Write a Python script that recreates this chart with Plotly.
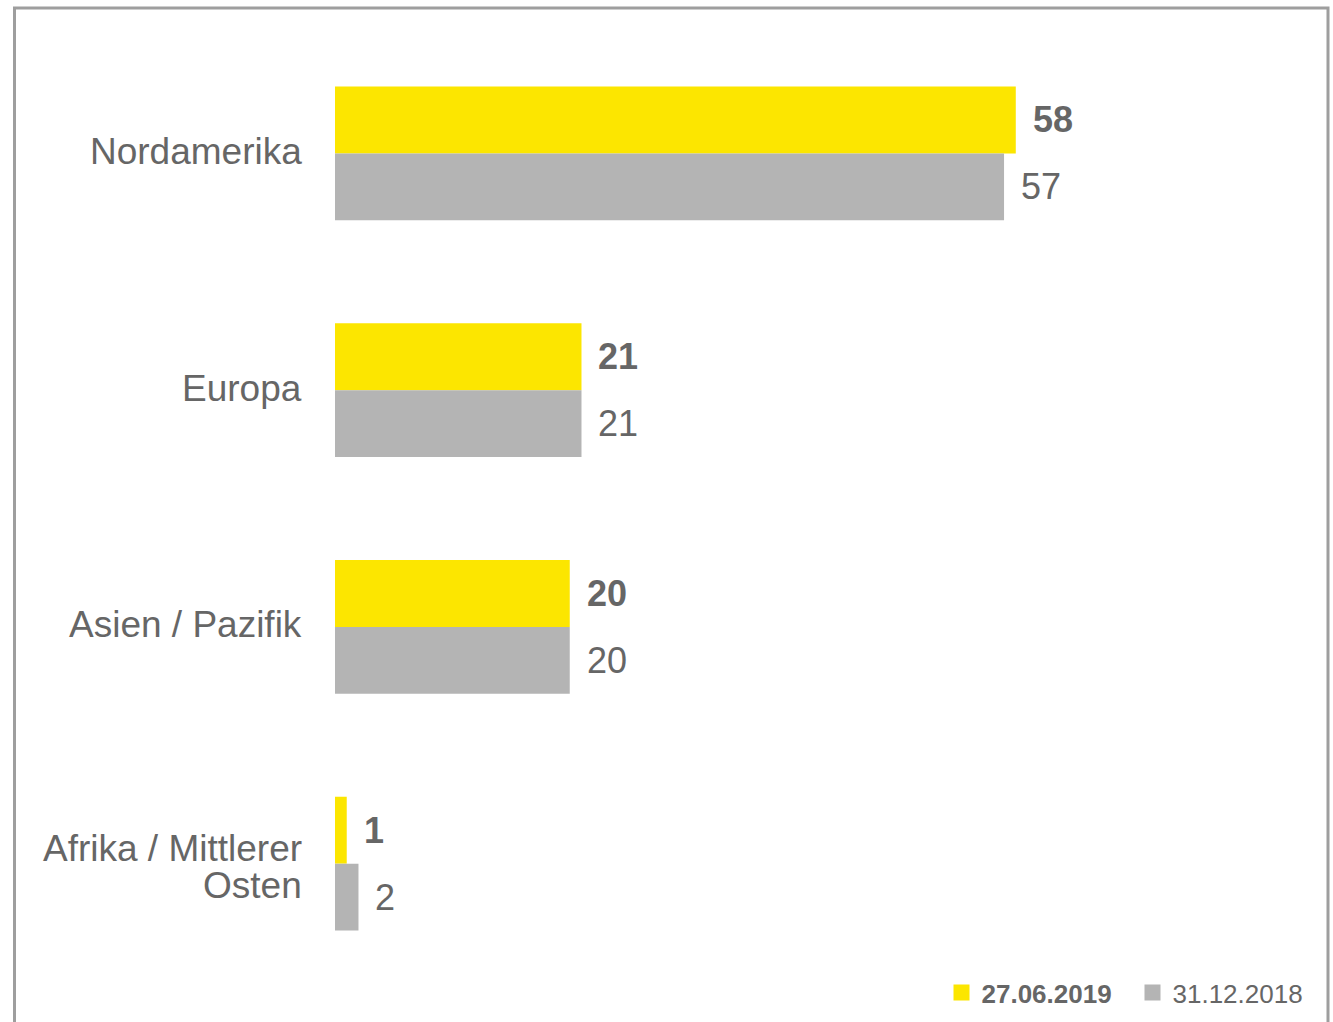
import plotly.graph_objects as go

categories = ["Nordamerika", "Europa", "Asien / Pazifik", "Afrika / Mittlerer Osten"]
category_lines = [["Nordamerika"], ["Europa"], ["Asien / Pazifik"], ["Afrika / Mittlerer", "Osten"]]
series_names = ["27.06.2019", "31.12.2018"]
values_2019 = [58, 21, 20, 1]
values_2018 = [57, 21, 20, 2]

YELLOW = "#FCE600"
GREY = "#B4B4B4"
TEXT = "#666666"
FONT = "Liberation Sans, Arial, sans-serif"

W, H = 1333, 1022
L, T, B = 335, 34.5, 39.5
XMAX = 80
plot_w = 939
R = W - L - plot_w
plot_h = H - T - B

fig = go.Figure()
fig.add_trace(go.Bar(y=categories, x=values_2019, name=series_names[0], showlegend=False,
                     orientation="h", marker=dict(color=YELLOW, line=dict(width=0))))
fig.add_trace(go.Bar(y=categories, x=values_2018, name=series_names[1], showlegend=False,
                     orientation="h", marker=dict(color=GREY, line=dict(width=0))))
# legend entries with larger square symbols
fig.add_trace(go.Scatter(x=[None], y=[None], mode="markers", name="<b>" + series_names[0] + "</b>",
                         marker=dict(symbol="square", size=16, color=YELLOW, line=dict(width=0))))
fig.add_trace(go.Scatter(x=[None], y=[None], mode="markers", name=series_names[1],
                         marker=dict(symbol="square", size=16, color=GREY, line=dict(width=0))))

band = plot_h / len(categories)
bar_h = band * 0.565 / 2
for cat, v in zip(categories, values_2019):
    fig.add_annotation(x=v, y=cat, text="<b>%d</b>" % v, showarrow=False,
                       xanchor="left", yanchor="middle", xshift=15, yshift=bar_h / 2,
                       font=dict(size=36, color=TEXT, family=FONT))
for cat, v in zip(categories, values_2018):
    fig.add_annotation(x=v, y=cat, text="%d" % v, showarrow=False,
                       xanchor="left", yanchor="middle", xshift=15, yshift=-bar_h / 2,
                       font=dict(size=36, color=TEXT, family=FONT))

# category labels (tight line spacing for wrapped label)
for cat, lines in zip(categories, category_lines):
    n = len(lines)
    base = 2 + (n - 1) * 13.5
    for i, line in enumerate(lines):
        fig.add_annotation(x=0, xref="paper", y=cat, text=line, showarrow=False,
                           xanchor="right", yanchor="middle", xshift=-31, yshift=base - i * 37,
                           font=dict(size=37, color=TEXT, family=FONT))

# frame (open at the bottom)
x_left = (14.5 - L) / plot_w
x_right = (1328 - L) / plot_w
y_top = 1 + (T - 7.5) / plot_h
fig.add_shape(type="path", xref="paper", yref="paper",
              path="M %f,-0.2 L %f,%f L %f,%f L %f,-0.2" % (x_left, x_left, y_top, x_right, y_top, x_right),
              line=dict(color="#9E9E9E", width=3))

fig.update_layout(
    width=W, height=H,
    margin=dict(l=L, r=R, t=T, b=B, autoexpand=False),
    paper_bgcolor="white", plot_bgcolor="white",
    barmode="group", bargap=0.435, bargroupgap=0,
    font=dict(family=FONT, color=TEXT),
    xaxis=dict(range=[0, XMAX], visible=False, showgrid=False, zeroline=False, fixedrange=True),
    yaxis=dict(autorange="reversed", showgrid=False, zeroline=False, showline=False,
               ticks="", showticklabels=False, fixedrange=True),
    legend=dict(orientation="h", x=(941.5 - L) / plot_w, xanchor="left",
                y=(H - 993 - B) / plot_h, yanchor="middle",
                font=dict(size=26, color=TEXT, family=FONT), traceorder="normal",
                bgcolor="rgba(0,0,0,0)", itemwidth=30,
                entrywidth=146, entrywidthmode="pixels"),
    showlegend=True,
    hovermode=False,
)

fig.write_html("out.html", config={"displayModeBar": False},
               post_script="document.body.style.margin='0';document.body.style.overflow='hidden';")
